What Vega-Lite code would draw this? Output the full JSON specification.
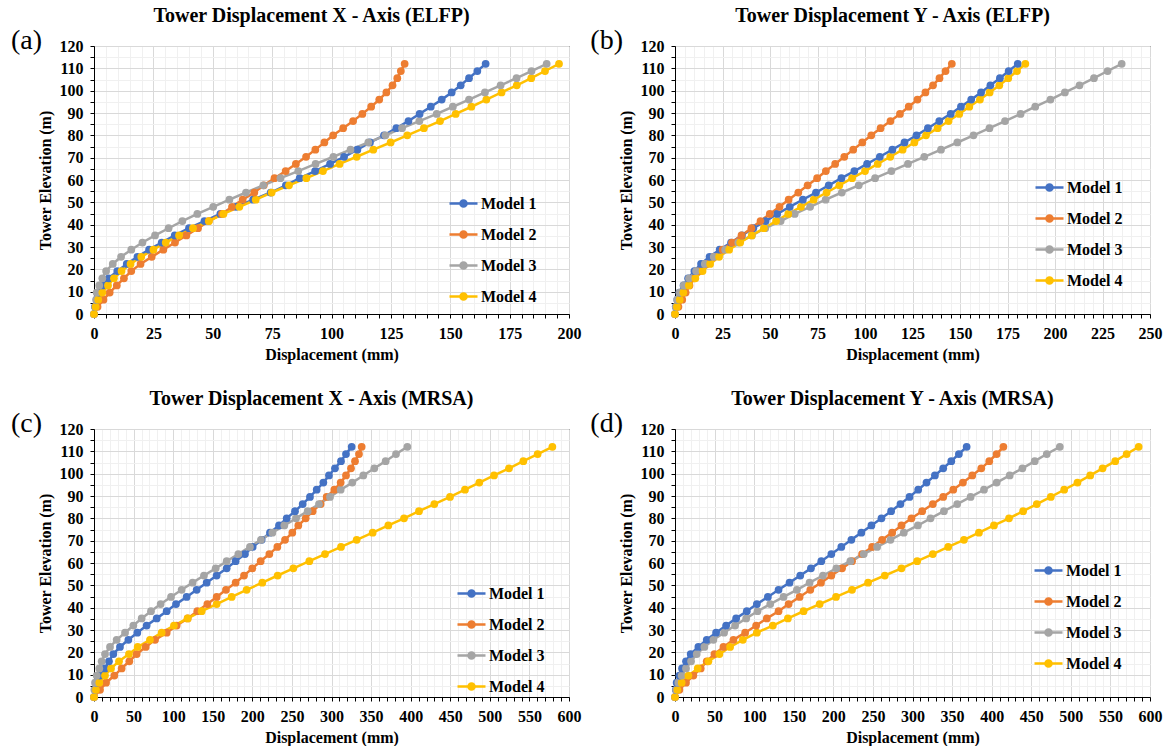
{
  "$schema": "https://vega.github.io/schema/vega-lite/v6.json",
  "background": "white",
  "padding": {"left": 10, "top": 5, "right": 0, "bottom": 0},
  "datasets": {
    "a": [
      {"e":0,"Model 1":0,"Model 2":0,"Model 3":0,"Model 4":0},
      {"e":3.2,"Model 1":0.4,"Model 2":1.5,"Model 3":0.5,"Model 4":0.7},
      {"e":6.4,"Model 1":1.1,"Model 2":4,"Model 3":0.9,"Model 4":1.8},
      {"e":9.6,"Model 1":2.1,"Model 2":6.6,"Model 3":1.1,"Model 4":3.5},
      {"e":12.8,"Model 1":3.6,"Model 2":9.6,"Model 3":2.2,"Model 4":5.9},
      {"e":16,"Model 1":6.2,"Model 2":12.6,"Model 3":3.5,"Model 4":8.4},
      {"e":19.2,"Model 1":9.8,"Model 2":15.7,"Model 3":5.1,"Model 4":11.6},
      {"e":22.4,"Model 1":13.8,"Model 2":19.6,"Model 3":7.9,"Model 4":15.4},
      {"e":25.6,"Model 1":18.3,"Model 2":24.3,"Model 3":11.4,"Model 4":19.9},
      {"e":28.8,"Model 1":23.2,"Model 2":29.2,"Model 3":15.7,"Model 4":25},
      {"e":32,"Model 1":28.5,"Model 2":34.1,"Model 3":20.4,"Model 4":30.2},
      {"e":35.2,"Model 1":34,"Model 2":38.9,"Model 3":25.7,"Model 4":35.8},
      {"e":38.4,"Model 1":40,"Model 2":43.8,"Model 3":31.4,"Model 4":41.7},
      {"e":41.6,"Model 1":46.5,"Model 2":48.3,"Model 3":37.2,"Model 4":48.4},
      {"e":44.8,"Model 1":53.2,"Model 2":53.9,"Model 3":43.5,"Model 4":54.5},
      {"e":48,"Model 1":59.8,"Model 2":58.1,"Model 3":50.2,"Model 4":61.2},
      {"e":51.2,"Model 1":67,"Model 2":62.6,"Model 3":57,"Model 4":68.1},
      {"e":54.4,"Model 1":74.4,"Model 2":67.5,"Model 3":64,"Model 4":74.8},
      {"e":57.6,"Model 1":80.8,"Model 2":71.5,"Model 3":71.3,"Model 4":82.1},
      {"e":60.8,"Model 1":86.6,"Model 2":76,"Model 3":78.5,"Model 4":89.4},
      {"e":64,"Model 1":93.1,"Model 2":80.7,"Model 3":86,"Model 4":96.4},
      {"e":67.2,"Model 1":99.4,"Model 2":85,"Model 3":93.3,"Model 4":103.4},
      {"e":70.4,"Model 1":105.3,"Model 2":89.3,"Model 3":100.8,"Model 4":110.6},
      {"e":73.6,"Model 1":110.9,"Model 2":93.2,"Model 3":108,"Model 4":117.6},
      {"e":76.8,"Model 1":116.2,"Model 2":97,"Model 3":115.5,"Model 4":124.9},
      {"e":80,"Model 1":122.1,"Model 2":100.7,"Model 3":122.7,"Model 4":131.9},
      {"e":83.2,"Model 1":127.3,"Model 2":104.9,"Model 3":129.7,"Model 4":138.9},
      {"e":86.4,"Model 1":132.4,"Model 2":109.1,"Model 3":137,"Model 4":145.7},
      {"e":89.6,"Model 1":137.1,"Model 2":113,"Model 3":144.3,"Model 4":152.3},
      {"e":92.8,"Model 1":141.8,"Model 2":116.7,"Model 3":151.1,"Model 4":158.9},
      {"e":96,"Model 1":146.4,"Model 2":120.1,"Model 3":157.9,"Model 4":165.2},
      {"e":99.2,"Model 1":150.6,"Model 2":123.1,"Model 3":164.6,"Model 4":171.6},
      {"e":102.4,"Model 1":154.4,"Model 2":125.7,"Model 3":171.2,"Model 4":178},
      {"e":105.6,"Model 1":157.9,"Model 2":127.7,"Model 3":177.9,"Model 4":184.1},
      {"e":108.8,"Model 1":161.4,"Model 2":129.2,"Model 3":184.2,"Model 4":189.9},
      {"e":112,"Model 1":164.9,"Model 2":130.8,"Model 3":190.6,"Model 4":195.8}
    ],
    "b": [
      {"e":0,"Model 1":0,"Model 2":0,"Model 3":0,"Model 4":0},
      {"e":3.2,"Model 1":0.4,"Model 2":1.8,"Model 3":0.4,"Model 4":1},
      {"e":6.4,"Model 1":1.2,"Model 2":3.8,"Model 3":1.2,"Model 4":2.5},
      {"e":9.6,"Model 1":2.3,"Model 2":5.6,"Model 3":2.4,"Model 4":4.4},
      {"e":12.8,"Model 1":4.5,"Model 2":7.6,"Model 3":4.6,"Model 4":7.3},
      {"e":16,"Model 1":6.9,"Model 2":10,"Model 3":7.4,"Model 4":10.7},
      {"e":19.2,"Model 1":10.2,"Model 2":13,"Model 3":11.1,"Model 4":14.5},
      {"e":22.4,"Model 1":13.7,"Model 2":16.5,"Model 3":15.7,"Model 4":18.5},
      {"e":25.6,"Model 1":18.2,"Model 2":20.6,"Model 3":20.4,"Model 4":23.2},
      {"e":28.8,"Model 1":23.5,"Model 2":25.1,"Model 3":26.4,"Model 4":28.5},
      {"e":32,"Model 1":29.5,"Model 2":30,"Model 3":33.3,"Model 4":34.3},
      {"e":35.2,"Model 1":35.2,"Model 2":35,"Model 3":40.5,"Model 4":40.4},
      {"e":38.4,"Model 1":41.2,"Model 2":40.2,"Model 3":47.5,"Model 4":46.8},
      {"e":41.6,"Model 1":47.7,"Model 2":45,"Model 3":55.6,"Model 4":53.2},
      {"e":44.8,"Model 1":53.8,"Model 2":49.9,"Model 3":63,"Model 4":59.6},
      {"e":48,"Model 1":60.4,"Model 2":55,"Model 3":71.1,"Model 4":66.3},
      {"e":51.2,"Model 1":67.3,"Model 2":59.8,"Model 3":79.3,"Model 4":73},
      {"e":54.4,"Model 1":74.2,"Model 2":64.9,"Model 3":87.8,"Model 4":79.8},
      {"e":57.6,"Model 1":80.9,"Model 2":69.8,"Model 3":96.7,"Model 4":86.5},
      {"e":60.8,"Model 1":87.6,"Model 2":74.8,"Model 3":105.3,"Model 4":93.2},
      {"e":64,"Model 1":94.4,"Model 2":79.4,"Model 3":113.9,"Model 4":100},
      {"e":67.2,"Model 1":101.1,"Model 2":84.3,"Model 3":122.6,"Model 4":106.7},
      {"e":70.4,"Model 1":107.8,"Model 2":89.1,"Model 3":131.2,"Model 4":113.3},
      {"e":73.6,"Model 1":114.4,"Model 2":93.8,"Model 3":140,"Model 4":119.8},
      {"e":76.8,"Model 1":120.8,"Model 2":98.6,"Model 3":148.6,"Model 4":126},
      {"e":80,"Model 1":127.1,"Model 2":103.3,"Model 3":157.1,"Model 4":132.1},
      {"e":83.2,"Model 1":133.1,"Model 2":108.2,"Model 3":165.5,"Model 4":138.2},
      {"e":86.4,"Model 1":139.1,"Model 2":113.4,"Model 3":173.7,"Model 4":144},
      {"e":89.6,"Model 1":145.1,"Model 2":118.4,"Model 3":181.9,"Model 4":149.6},
      {"e":92.8,"Model 1":150.5,"Model 2":123,"Model 3":189.6,"Model 4":154.9},
      {"e":96,"Model 1":155.9,"Model 2":127.6,"Model 3":197.6,"Model 4":160.5},
      {"e":99.2,"Model 1":161.1,"Model 2":131.8,"Model 3":205.2,"Model 4":165.6},
      {"e":102.4,"Model 1":166,"Model 2":135.8,"Model 3":212.9,"Model 4":170.7},
      {"e":105.6,"Model 1":171,"Model 2":139.2,"Model 3":220.5,"Model 4":175.4},
      {"e":108.8,"Model 1":175.6,"Model 2":142.4,"Model 3":227.7,"Model 4":180},
      {"e":112,"Model 1":180.4,"Model 2":145.7,"Model 3":235.1,"Model 4":184.4}
    ],
    "c": [
      {"e":0,"Model 1":0,"Model 2":0,"Model 3":0,"Model 4":0},
      {"e":3.2,"Model 1":1.3,"Model 2":7.6,"Model 3":0.5,"Model 4":2.5},
      {"e":6.4,"Model 1":3.4,"Model 2":15.2,"Model 3":1.3,"Model 4":6.7},
      {"e":9.6,"Model 1":7.6,"Model 2":25.7,"Model 3":3.4,"Model 4":13.9},
      {"e":12.8,"Model 1":13.9,"Model 2":34.9,"Model 3":6.7,"Model 4":21.5},
      {"e":16,"Model 1":18.9,"Model 2":44.6,"Model 3":9.7,"Model 4":31.6},
      {"e":19.2,"Model 1":24.4,"Model 2":53.9,"Model 3":13.9,"Model 4":44.2},
      {"e":22.4,"Model 1":32.8,"Model 2":65.3,"Model 3":20.2,"Model 4":55.2},
      {"e":25.6,"Model 1":43.4,"Model 2":77.1,"Model 3":28.6,"Model 4":70.7},
      {"e":28.8,"Model 1":54.7,"Model 2":91.8,"Model 3":39.2,"Model 4":85.5},
      {"e":32,"Model 1":66.5,"Model 2":104.4,"Model 3":49.7,"Model 4":101},
      {"e":35.2,"Model 1":79.2,"Model 2":118.3,"Model 3":60.2,"Model 4":118.3},
      {"e":38.4,"Model 1":91.8,"Model 2":130.5,"Model 3":72,"Model 4":136},
      {"e":41.6,"Model 1":103.6,"Model 2":143.2,"Model 3":84.2,"Model 4":154.9},
      {"e":44.8,"Model 1":117,"Model 2":155,"Model 3":97.3,"Model 4":173.9},
      {"e":48,"Model 1":129.7,"Model 2":166.7,"Model 3":110.7,"Model 4":192.8},
      {"e":51.2,"Model 1":142.3,"Model 2":178.9,"Model 3":124.6,"Model 4":212.6},
      {"e":54.4,"Model 1":154.9,"Model 2":189.5,"Model 3":138.9,"Model 4":232},
      {"e":57.6,"Model 1":167.6,"Model 2":200,"Model 3":153.7,"Model 4":251.8},
      {"e":60.8,"Model 1":178.9,"Model 2":210.5,"Model 3":167.6,"Model 4":272},
      {"e":64,"Model 1":190.7,"Model 2":221.5,"Model 3":182.3,"Model 4":291.8},
      {"e":67.2,"Model 1":200.4,"Model 2":231.6,"Model 3":197,"Model 4":312},
      {"e":70.4,"Model 1":211.8,"Model 2":241.3,"Model 3":210.9,"Model 4":331.8},
      {"e":73.6,"Model 1":222.3,"Model 2":250.5,"Model 3":225.3,"Model 4":352},
      {"e":76.8,"Model 1":233.7,"Model 2":258.1,"Model 3":240.4,"Model 4":371.8},
      {"e":80,"Model 1":243.4,"Model 2":267.4,"Model 3":255.2,"Model 4":391.6},
      {"e":83.2,"Model 1":253.9,"Model 2":276.2,"Model 3":269.9,"Model 4":410.5},
      {"e":86.4,"Model 1":263.6,"Model 2":286.3,"Model 3":284.2,"Model 4":429.9},
      {"e":89.6,"Model 1":272.8,"Model 2":293.9,"Model 3":298.1,"Model 4":449.7},
      {"e":92.8,"Model 1":281.3,"Model 2":303.6,"Model 3":311.6,"Model 4":468.6},
      {"e":96,"Model 1":289.7,"Model 2":311.6,"Model 3":326.3,"Model 4":486.7},
      {"e":99.2,"Model 1":296.8,"Model 2":318.3,"Model 3":340.2,"Model 4":505.3},
      {"e":102.4,"Model 1":304.4,"Model 2":324.6,"Model 3":354.1,"Model 4":524.2},
      {"e":105.6,"Model 1":312,"Model 2":329.7,"Model 3":368.4,"Model 4":542.3},
      {"e":108.8,"Model 1":318.3,"Model 2":334.7,"Model 3":381.5,"Model 4":560.4},
      {"e":112,"Model 1":325.5,"Model 2":338.1,"Model 3":395.8,"Model 4":579}
    ],
    "d": [
      {"e":0,"Model 1":0,"Model 2":0,"Model 3":0,"Model 4":0},
      {"e":3.2,"Model 1":1,"Model 2":5.5,"Model 3":1.3,"Model 4":3},
      {"e":6.4,"Model 1":2.1,"Model 2":13.9,"Model 3":4.2,"Model 4":8.4},
      {"e":9.6,"Model 1":5.5,"Model 2":23.2,"Model 3":8.4,"Model 4":16.9},
      {"e":12.8,"Model 1":8.9,"Model 2":32.5,"Model 3":13.9,"Model 4":28.7},
      {"e":16,"Model 1":13.9,"Model 2":40.1,"Model 3":20.3,"Model 4":42.2},
      {"e":19.2,"Model 1":19.8,"Model 2":49.8,"Model 3":27.4,"Model 4":56.1},
      {"e":22.4,"Model 1":29.5,"Model 2":61.2,"Model 3":37.1,"Model 4":69.6},
      {"e":25.6,"Model 1":40.1,"Model 2":73.8,"Model 3":48.5,"Model 4":85.7},
      {"e":28.8,"Model 1":51.9,"Model 2":88.6,"Model 3":62,"Model 4":103.4},
      {"e":32,"Model 1":64.6,"Model 2":102.5,"Model 3":75.9,"Model 4":123.6},
      {"e":35.2,"Model 1":77.2,"Model 2":116,"Model 3":89.9,"Model 4":142.6},
      {"e":38.4,"Model 1":90.7,"Model 2":130.8,"Model 3":104.2,"Model 4":162.4},
      {"e":41.6,"Model 1":103.4,"Model 2":143.5,"Model 3":120.3,"Model 4":182.7},
      {"e":44.8,"Model 1":117.3,"Model 2":157.4,"Model 3":137.1,"Model 4":203.4},
      {"e":48,"Model 1":130.8,"Model 2":170.9,"Model 3":154,"Model 4":223.6},
      {"e":51.2,"Model 1":144.7,"Model 2":184.4,"Model 3":170,"Model 4":243.9},
      {"e":54.4,"Model 1":158.2,"Model 2":197.5,"Model 3":186.9,"Model 4":265},
      {"e":57.6,"Model 1":171.7,"Model 2":211,"Model 3":203.8,"Model 4":286.1},
      {"e":60.8,"Model 1":184.8,"Model 2":223.6,"Model 3":221.5,"Model 4":305.9},
      {"e":64,"Model 1":197.5,"Model 2":236.3,"Model 3":238.4,"Model 4":325.7},
      {"e":67.2,"Model 1":210.1,"Model 2":249,"Model 3":255.3,"Model 4":345.1},
      {"e":70.4,"Model 1":222.8,"Model 2":261.6,"Model 3":272.2,"Model 4":365},
      {"e":73.6,"Model 1":235.4,"Model 2":274.3,"Model 3":289,"Model 4":383.9},
      {"e":76.8,"Model 1":248.1,"Model 2":286.1,"Model 3":306.8,"Model 4":402.9},
      {"e":80,"Model 1":260.8,"Model 2":298.7,"Model 3":322.8,"Model 4":421.9},
      {"e":83.2,"Model 1":273,"Model 2":312.2,"Model 3":339.7,"Model 4":439.7},
      {"e":86.4,"Model 1":284.8,"Model 2":325.7,"Model 3":356.5,"Model 4":457},
      {"e":89.6,"Model 1":296.2,"Model 2":338.8,"Model 3":373.4,"Model 4":474.7},
      {"e":92.8,"Model 1":307.2,"Model 2":351.5,"Model 3":390.3,"Model 4":491.6},
      {"e":96,"Model 1":317.7,"Model 2":363.7,"Model 3":406.3,"Model 4":508.4},
      {"e":99.2,"Model 1":328.3,"Model 2":375.5,"Model 3":422.8,"Model 4":524.5},
      {"e":102.4,"Model 1":338.8,"Model 2":386.9,"Model 3":438.8,"Model 4":540.1},
      {"e":105.6,"Model 1":349,"Model 2":397,"Model 3":454.4,"Model 4":556.1},
      {"e":108.8,"Model 1":358.6,"Model 2":406.3,"Model 3":469.6,"Model 4":570.5},
      {"e":112,"Model 1":368.4,"Model 2":414.8,"Model 3":486.1,"Model 4":585.7}
    ]
  },
  "columns": 2,
  "spacing": {"row": 25, "column": 7},
  "resolve": {
    "scale": {"x": "independent", "y": "independent", "color": "independent"},
    "legend": {"color": "independent"}
  },
  "concat": [
    {
      "width": 475, "height": 268,
      "title": {"text": "Tower Displacement X - Axis (ELFP)", "frame": "group", "dx": -20, "offset": 1},
      "layer": [
        {
          "data": {"name": "a"},
          "transform": [{"fold": ["Model 1", "Model 2", "Model 3", "Model 4"], "as": ["Model", "d"]}],
          "mark": {"type": "line", "strokeWidth": 2.5},
          "encoding": {
            "x": {"field": "d", "type": "quantitative", "title": "Displacement (mm)", "scale": {"domain": [0, 200], "nice": false},
              "axis": {"tickCount": 40, "labelExpr": "datum.value % 25 === 0 ? datum.label : ''",
                "gridColor": {"condition": {"test": "datum.value % 25 === 0", "value": "#d9d9d9"}, "value": "#f0f0f0"}}},
            "y": {"field": "e", "type": "quantitative", "title": "Tower Elevation (m)", "scale": {"domain": [0, 120], "nice": false},
              "axis": {"tickCount": 24, "labelExpr": "datum.value % 10 === 0 ? datum.label : ''",
                "gridColor": {"condition": {"test": "datum.value % 10 === 0", "value": "#d9d9d9"}, "value": "#f0f0f0"}}},
            "color": {"field": "Model", "type": "nominal",
              "scale": {"domain": ["Model 1", "Model 2", "Model 3", "Model 4"], "range": ["#4472C4", "#ED7D31", "#A5A5A5", "#FFC000"]},
              "legend": {"legendX": 354, "legendY": 142,
                "encode": {"symbols": {"update": {"fill": {"scale": "color", "field": "value"}, "stroke": {"scale": "color", "field": "value"}}}}}},
            "order": {"field": "e", "type": "quantitative"}
          }
        },
        {
          "data": {"name": "a"},
          "transform": [{"fold": ["Model 1", "Model 2", "Model 3", "Model 4"], "as": ["Model", "d"]}],
          "mark": {"type": "point", "filled": true, "size": 60, "opacity": 1},
          "encoding": {
            "x": {"field": "d", "type": "quantitative", "title": "Displacement (mm)"},
            "y": {"field": "e", "type": "quantitative", "title": "Tower Elevation (m)"},
            "color": {"field": "Model", "type": "nominal"}
          }
        },
        {
          "data": {"values": [{}]},
          "mark": {"type": "text", "text": "(a)", "font": "Liberation Serif", "fontSize": 28, "align": "right", "baseline": "middle", "dx": -52, "dy": -5, "color": "black"},
          "encoding": {"x": {"datum": 0, "type": "quantitative"}, "y": {"datum": 120, "type": "quantitative"}}
        }
      ]
    },
    {
      "width": 475, "height": 268,
      "title": {"text": "Tower Displacement Y - Axis (ELFP)", "frame": "group", "dx": -20, "offset": 1},
      "layer": [
        {
          "data": {"name": "b"},
          "transform": [{"fold": ["Model 1", "Model 2", "Model 3", "Model 4"], "as": ["Model", "d"]}],
          "mark": {"type": "line", "strokeWidth": 2.5},
          "encoding": {
            "x": {"field": "d", "type": "quantitative", "title": "Displacement (mm)", "scale": {"domain": [0, 250], "nice": false},
              "axis": {"tickCount": 50, "labelExpr": "datum.value % 25 === 0 ? datum.label : ''",
                "gridColor": {"condition": {"test": "datum.value % 25 === 0", "value": "#d9d9d9"}, "value": "#f0f0f0"}}},
            "y": {"field": "e", "type": "quantitative", "title": "Tower Elevation (m)", "scale": {"domain": [0, 120], "nice": false},
              "axis": {"tickCount": 24, "labelExpr": "datum.value % 10 === 0 ? datum.label : ''",
                "gridColor": {"condition": {"test": "datum.value % 10 === 0", "value": "#d9d9d9"}, "value": "#f0f0f0"}}},
            "color": {"field": "Model", "type": "nominal",
              "scale": {"domain": ["Model 1", "Model 2", "Model 3", "Model 4"], "range": ["#4472C4", "#ED7D31", "#A5A5A5", "#FFC000"]},
              "legend": {"legendX": 359, "legendY": 126,
                "encode": {"symbols": {"update": {"fill": {"scale": "color", "field": "value"}, "stroke": {"scale": "color", "field": "value"}}}}}},
            "order": {"field": "e", "type": "quantitative"}
          }
        },
        {
          "data": {"name": "b"},
          "transform": [{"fold": ["Model 1", "Model 2", "Model 3", "Model 4"], "as": ["Model", "d"]}],
          "mark": {"type": "point", "filled": true, "size": 60, "opacity": 1},
          "encoding": {
            "x": {"field": "d", "type": "quantitative", "title": "Displacement (mm)"},
            "y": {"field": "e", "type": "quantitative", "title": "Tower Elevation (m)"},
            "color": {"field": "Model", "type": "nominal"}
          }
        },
        {
          "data": {"values": [{}]},
          "mark": {"type": "text", "text": "(b)", "font": "Liberation Serif", "fontSize": 28, "align": "right", "baseline": "middle", "dx": -52, "dy": -5, "color": "black"},
          "encoding": {"x": {"datum": 0, "type": "quantitative"}, "y": {"datum": 120, "type": "quantitative"}}
        }
      ]
    },
    {
      "width": 475, "height": 268,
      "title": {"text": "Tower Displacement X - Axis (MRSA)", "frame": "group", "dx": -20, "offset": 1},
      "layer": [
        {
          "data": {"name": "c"},
          "transform": [{"fold": ["Model 1", "Model 2", "Model 3", "Model 4"], "as": ["Model", "d"]}],
          "mark": {"type": "line", "strokeWidth": 2.5},
          "encoding": {
            "x": {"field": "d", "type": "quantitative", "title": "Displacement (mm)", "scale": {"domain": [0, 600], "nice": false},
              "axis": {"tickCount": 60, "labelExpr": "datum.value % 50 === 0 ? datum.label : ''",
                "gridColor": {"condition": {"test": "datum.value % 50 === 0", "value": "#d9d9d9"}, "value": "#f0f0f0"}}},
            "y": {"field": "e", "type": "quantitative", "title": "Tower Elevation (m)", "scale": {"domain": [0, 120], "nice": false},
              "axis": {"tickCount": 24, "labelExpr": "datum.value % 10 === 0 ? datum.label : ''",
                "gridColor": {"condition": {"test": "datum.value % 10 === 0", "value": "#d9d9d9"}, "value": "#f0f0f0"}}},
            "color": {"field": "Model", "type": "nominal",
              "scale": {"domain": ["Model 1", "Model 2", "Model 3", "Model 4"], "range": ["#4472C4", "#ED7D31", "#A5A5A5", "#FFC000"]},
              "legend": {"legendX": 362, "legendY": 149,
                "encode": {"symbols": {"update": {"fill": {"scale": "color", "field": "value"}, "stroke": {"scale": "color", "field": "value"}}}}}},
            "order": {"field": "e", "type": "quantitative"}
          }
        },
        {
          "data": {"name": "c"},
          "transform": [{"fold": ["Model 1", "Model 2", "Model 3", "Model 4"], "as": ["Model", "d"]}],
          "mark": {"type": "point", "filled": true, "size": 60, "opacity": 1},
          "encoding": {
            "x": {"field": "d", "type": "quantitative", "title": "Displacement (mm)"},
            "y": {"field": "e", "type": "quantitative", "title": "Tower Elevation (m)"},
            "color": {"field": "Model", "type": "nominal"}
          }
        },
        {
          "data": {"values": [{}]},
          "mark": {"type": "text", "text": "(c)", "font": "Liberation Serif", "fontSize": 28, "align": "right", "baseline": "middle", "dx": -52, "dy": -5, "color": "black"},
          "encoding": {"x": {"datum": 0, "type": "quantitative"}, "y": {"datum": 120, "type": "quantitative"}}
        }
      ]
    },
    {
      "width": 475, "height": 268,
      "title": {"text": "Tower Displacement Y - Axis (MRSA)", "frame": "group", "dx": -20, "offset": 1},
      "layer": [
        {
          "data": {"name": "d"},
          "transform": [{"fold": ["Model 1", "Model 2", "Model 3", "Model 4"], "as": ["Model", "d"]}],
          "mark": {"type": "line", "strokeWidth": 2.5},
          "encoding": {
            "x": {"field": "d", "type": "quantitative", "title": "Displacement (mm)", "scale": {"domain": [0, 600], "nice": false},
              "axis": {"tickCount": 60, "labelExpr": "datum.value % 50 === 0 ? datum.label : ''",
                "gridColor": {"condition": {"test": "datum.value % 50 === 0", "value": "#d9d9d9"}, "value": "#f0f0f0"}}},
            "y": {"field": "e", "type": "quantitative", "title": "Tower Elevation (m)", "scale": {"domain": [0, 120], "nice": false},
              "axis": {"tickCount": 24, "labelExpr": "datum.value % 10 === 0 ? datum.label : ''",
                "gridColor": {"condition": {"test": "datum.value % 10 === 0", "value": "#d9d9d9"}, "value": "#f0f0f0"}}},
            "color": {"field": "Model", "type": "nominal",
              "scale": {"domain": ["Model 1", "Model 2", "Model 3", "Model 4"], "range": ["#4472C4", "#ED7D31", "#A5A5A5", "#FFC000"]},
              "legend": {"legendX": 358, "legendY": 126,
                "encode": {"symbols": {"update": {"fill": {"scale": "color", "field": "value"}, "stroke": {"scale": "color", "field": "value"}}}}}},
            "order": {"field": "e", "type": "quantitative"}
          }
        },
        {
          "data": {"name": "d"},
          "transform": [{"fold": ["Model 1", "Model 2", "Model 3", "Model 4"], "as": ["Model", "d"]}],
          "mark": {"type": "point", "filled": true, "size": 60, "opacity": 1},
          "encoding": {
            "x": {"field": "d", "type": "quantitative", "title": "Displacement (mm)"},
            "y": {"field": "e", "type": "quantitative", "title": "Tower Elevation (m)"},
            "color": {"field": "Model", "type": "nominal"}
          }
        },
        {
          "data": {"values": [{}]},
          "mark": {"type": "text", "text": "(d)", "font": "Liberation Serif", "fontSize": 28, "align": "right", "baseline": "middle", "dx": -52, "dy": -5, "color": "black"},
          "encoding": {"x": {"datum": 0, "type": "quantitative"}, "y": {"datum": 120, "type": "quantitative"}}
        }
      ]
    }
  ],
  "config": {
    "view": {"stroke": "black", "strokeWidth": 1},
    "style": {
      "guide-label": {"font": "Liberation Serif", "fontWeight": "bold", "fontSize": 16, "fill": "black"},
      "guide-title": {"font": "Liberation Serif", "fontWeight": "bold", "fontSize": 16, "fill": "black"},
      "group-title": {"font": "Liberation Serif", "fontWeight": "bold", "fontSize": 20, "fill": "black"}
    },
    "axis": {
      "labelFont": "Liberation Serif", "labelFontSize": 16, "labelFontWeight": "bold", "labelColor": "black",
      "titleFont": "Liberation Serif", "titleFontSize": 16, "titleFontWeight": "bold", "titleColor": "black",
      "domainColor": "black", "tickColor": "black", "tickSize": 4, "labelPadding": 7,
      "labelOverlap": false, "labelFlush": false, "gridWidth": 1
    },
    "axisX": {"titlePadding": 5},
    "axisY": {"titlePadding": 6},
    "title": {"font": "Liberation Serif", "fontSize": 20, "fontWeight": "bold", "color": "black"},
    "legend": {
      "orient": "none", "title": null,
      "labelFont": "Liberation Serif", "labelFontSize": 16, "labelFontWeight": "bold", "labelColor": "black",
      "symbolType": "M-1,0H1M-0.22,0A0.22,0.22 0 1,1 0.22,0A0.22,0.22 0 1,1 -0.22,0Z",
      "symbolSize": 784, "symbolStrokeWidth": 2.5, "symbolOpacity": 1,
      "labelOffset": 2, "rowPadding": 7, "padding": 0
    }
  }
}
